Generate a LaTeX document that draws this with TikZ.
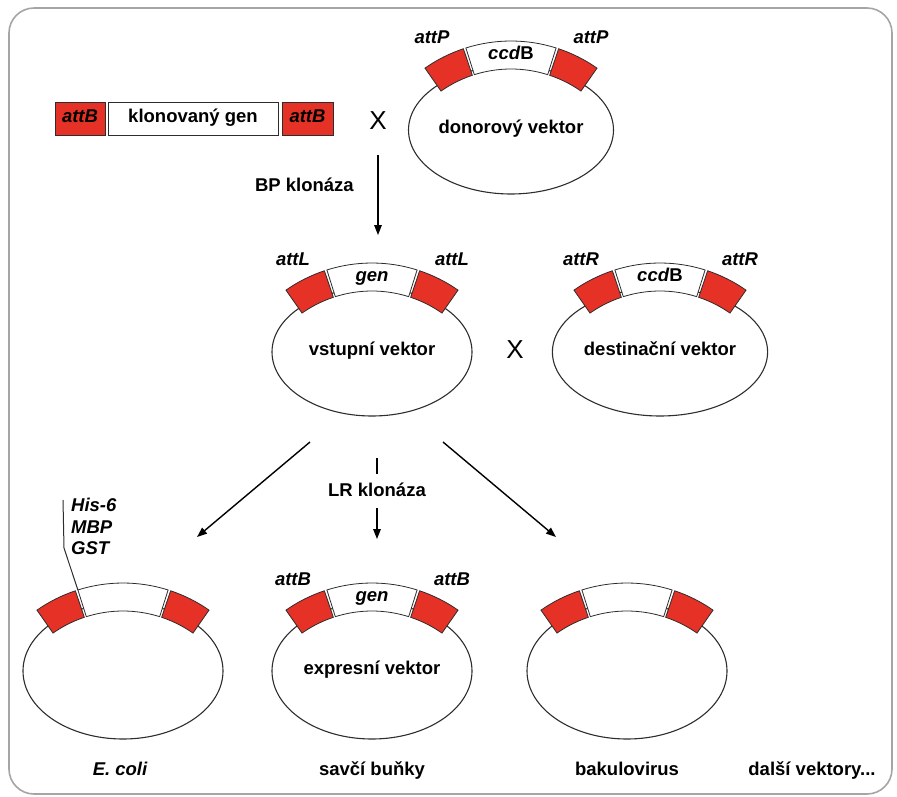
\documentclass[tikz,border=0pt]{standalone}
\usepackage{fontspec}
\setmainfont{Liberation Sans}
\usetikzlibrary{arrows.meta,shapes.geometric}
\definecolor{boxred}{RGB}{230,50,38}
\definecolor{edgec}{RGB}{45,45,45}
\definecolor{framegray}{RGB}{165,165,165}
\newcommand\lblfont{\fontsize{18.5}{20}\selectfont\bfseries}
\newcommand\attfont{\fontsize{18.5}{20}\selectfont\bfseries\itshape}
\tikzset{
  lbl/.style={font=\lblfont, text=black, inner sep=0pt, text height=0.72em, text depth=0pt},
  att/.style={font=\attfont, text=black, inner sep=0pt, text height=0.72em, text depth=0pt},
  vec/.style={ellipse, draw=edgec, line width=1.1pt, minimum width=200pt,
              inner sep=0pt, font=\lblfont, text height=0.72em, text depth=0pt},
  redbox/.style={fill=boxred, draw=edgec, line width=0.8pt},
  whitebox/.style={fill=white, draw=edgec, line width=0.8pt},
  linred/.style={fill=boxred, draw=edgec, line width=0.8pt, minimum height=33pt, inner sep=0pt,
                 font=\attfont, text height=0.72em, text depth=0pt},
  linwhite/.style={fill=white, draw=edgec, line width=0.8pt, minimum height=33pt, inner sep=0pt,
                 font=\lblfont, text height=0.72em, text depth=0pt},
  arr/.style={draw=black, line width=1.4pt, -{Triangle[length=10pt,width=7.5pt]}},
  plain/.style={draw=black, line width=1.4pt},
  cross/.style={font=\fontsize{26}{28}\selectfont, inner sep=0pt},
  pointer/.style={draw=edgec, line width=1pt},
  framec/.style={draw=framegray, line width=1.6pt, rounded corners=25pt}
}
% #1 name, #2 band centre x, #3 band top y, #4 ellipse height, #5 centre offset below band top, #6 body text
\newcommand\plasmid[6]{%
  \begin{scope}[shift={(#2,#3+150)}]
    \node[vec, minimum height=#4pt] (#1) at (0,#5-150) {#6};
    \filldraw[redbox] (-125:150) arc[start angle=-125,end angle=-108.5,radius=150]
      -- (-108.5:122) arc[start angle=-108.5,end angle=-125,radius=122] -- cycle;
    \filldraw[whitebox] (-107.5:150) arc[start angle=-107.5,end angle=-72.5,radius=150]
      -- (-72.5:122) arc[start angle=-72.5,end angle=-107.5,radius=122] -- cycle;
    \filldraw[redbox] (-71.5:150) arc[start angle=-71.5,end angle=-55,radius=150]
      -- (-55:122) arc[start angle=-55,end angle=-71.5,radius=122] -- cycle;
    \coordinate (#1wl) at (-107.5:150);
    \coordinate (#1mid) at (0,-135);
    \coordinate (#1tl) at (-79,-151);
    \coordinate (#1tr) at (80,-151);
  \end{scope}}
% #1 name, #2 left label, #3 right label, #4 gene text
\newcommand\plasmidlabels[4]{%
  \node[att] (#1L) at (#1tl) {#2};
  \node[att] (#1R) at (#1tr) {#3};
  \node[lbl] (#1G) at (#1mid) {#4};}
\begin{document}
\begin{tikzpicture}[x=1pt,y=-1pt]
\useasboundingbox (0,0) rectangle (897,796);
\draw[framec] (9,8) rectangle (892,794);

% linear construct
\node[linred, minimum width=50pt] (b1) at (80,118.5) {attB};
\node[linwhite, minimum width=170pt] (gene) at (193,118.5) {klonovaný gen};
\node[linred, minimum width=51pt] (b2) at (307.5,118.5) {attB};
\node[cross] (x1) at (378,121) {X};

% plasmids
\plasmid{donor}{511}{41}{128}{89}{donorový vektor}
\plasmidlabels{donor}{attP}{attP}{\textit{ccd}\textup{B}}
\plasmid{vstup}{372}{263}{128}{89}{vstupní vektor}
\plasmidlabels{vstup}{attL}{attL}{\textit{gen}}
\plasmid{dest}{660}{263}{128}{89}{destinační vektor}
\plasmidlabels{dest}{attR}{attR}{\textit{ccd}\textup{B}}
\node[cross] (x2) at (515,350) {X};
\plasmid{ecoli}{123}{583}{136}{88}{}
\plasmid{expr}{372}{583}{136}{88}{expresní vektor}
\plasmidlabels{expr}{attB}{attB}{\textit{gen}}
\plasmid{bac}{627}{583}{136}{88}{}

% BP arrow
\coordinate (bpA) at (378,155);
\coordinate (bpB) at (378,235);
\draw[arr] (bpA) -- (bpB);
\node[lbl, anchor=east] (bp) at (354,188) {BP klonáza};

% LR arrows
\coordinate (l1) at (310,442); \coordinate (l2) at (197,537);
\coordinate (r1) at (443,442); \coordinate (r2) at (556,537);
\coordinate (m1) at (377,458); \coordinate (m2) at (377,474);
\coordinate (m3) at (377,508); \coordinate (m4) at (377,539);
\draw[arr] (l1) -- (l2);
\draw[arr] (r1) -- (r2);
\draw[plain] (m1) -- (m2);
\draw[arr] (m3) -- (m4);
\node[lbl] (lr) at (377,493) {LR klonáza};

% tags
\node[att, anchor=west] (his) at (71,508) {His-6};
\node[att, anchor=west] (mbp) at (71,530) {MBP};
\node[att, anchor=west] (gst) at (71,551) {GST};
\coordinate (pA) at (63,500);
\coordinate (pB) at (64,548);
\draw[pointer] (pA) -- (pB) -- (ecoliwl);

% bottom labels
\node[att] (ec) at (120,772) {E. coli};
\node[lbl] (sav) at (372,772) {savčí buňky};
\node[lbl] (bak) at (627,772) {bakulovirus};
\node[lbl] (dal) at (812,772) {další vektory...};
\end{tikzpicture}
\end{document}
